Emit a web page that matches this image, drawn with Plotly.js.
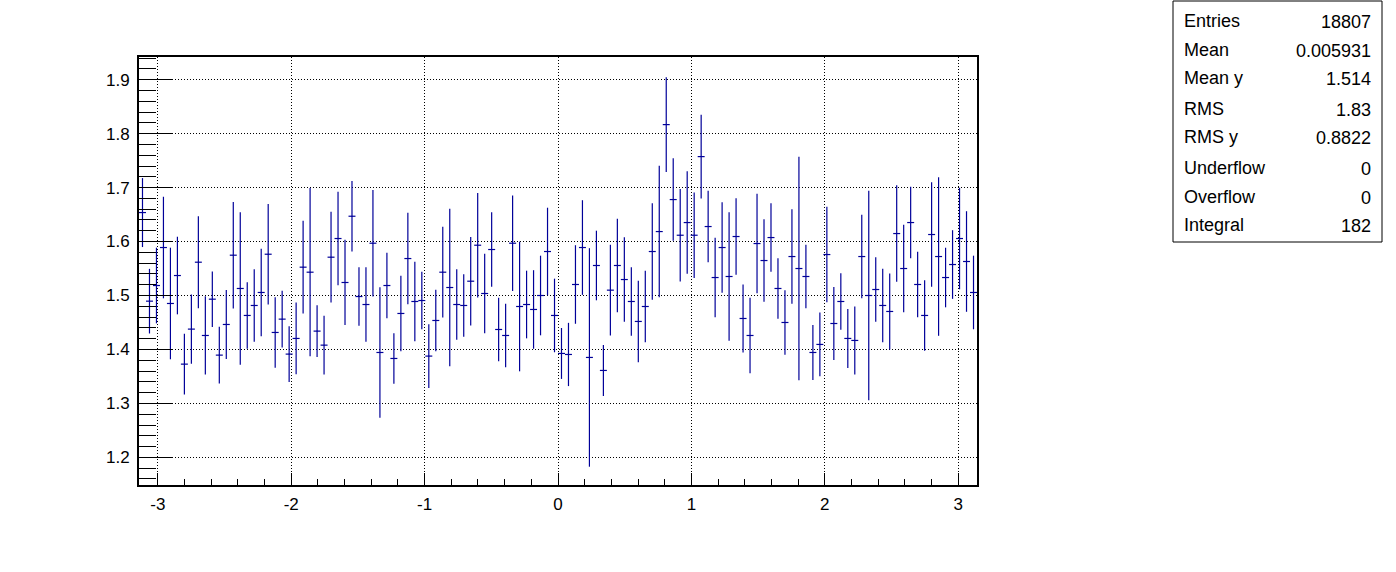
<!DOCTYPE html>
<html>
<head>
<meta charset="utf-8">
<script src="https://cdn.plot.ly/plotly-3.0.1.min.js"></script>
<style>html,body{margin:0;padding:0;background:#fff;}#chart{width:1396px;height:572px;}</style>
</head>
<body>
<div id="chart"></div>
<script>
// Profile: 120 bins over [-pi, pi]
var nBins = 120;
var xMin = -Math.PI, xMax = Math.PI;

var means = [
1.6537,1.4895,1.5185,1.5889,1.4852,1.5370,1.3728,1.4377,1.5617,1.4259,
1.4932,1.3895,1.4463,1.5747,1.5130,1.4630,1.4815,1.5056,1.5765,1.4315,
1.4562,1.3914,1.4204,1.5525,1.5432,1.4340,1.4080,1.5710,1.6056,1.5241,
1.6469,1.4981,1.4833,1.5969,1.3944,1.5185,1.3833,1.4667,1.5685,1.4889,
1.4907,1.3877,1.4537,1.5432,1.5148,1.4833,1.4815,1.5265,1.5932,1.5037,
1.5852,1.4370,1.4259,1.5969,1.4796,1.4833,1.4741,1.5000,1.5815,1.4630,
1.3926,1.3907,1.5204,1.5889,1.3852,1.5556,1.3611,1.5099,1.5556,1.5296,
1.4889,1.4519,1.4796,1.5815,1.6185,1.8167,1.6778,1.6117,1.6352,1.6117,
1.7574,1.6278,1.5333,1.5889,1.5352,1.6093,1.4574,1.4259,1.5963,1.5648,
1.6074,1.5130,1.4500,1.5722,1.5500,1.5352,1.3944,1.4093,1.5759,1.4481,
1.4889,1.4204,1.4167,1.5722,1.5000,1.5111,1.4815,1.4704,1.6148,1.5500,
1.6352,1.5204,1.4630,1.6130,1.5722,1.5333,1.5574,1.6056,1.5630,1.5056
];
var errors = [
0.0639,0.0599,0.0701,0.0941,0.1034,0.0719,0.0562,0.0642,0.0852,0.0725,
0.0515,0.0528,0.0639,0.0988,0.1414,0.0617,0.0673,0.0812,0.0932,0.0654,
0.0525,0.0515,0.0664,0.0858,0.1559,0.0478,0.0543,0.0840,0.0867,0.0790,
0.0654,0.0543,0.0691,0.0988,0.1210,0.0608,0.0469,0.0701,0.0849,0.0738,
0.0534,0.0590,0.0571,0.0840,0.1460,0.0654,0.0580,0.0821,0.0969,0.0738,
0.0691,0.0590,0.0590,0.0886,0.1201,0.0627,0.0728,0.0738,0.0812,0.0682,
0.0472,0.0586,0.0728,0.0877,0.2025,0.0645,0.0472,0.0840,0.0867,0.0784,
0.0636,0.0756,0.0664,0.0895,0.1219,0.0877,0.0765,0.0858,0.0951,0.0793,
0.0775,0.0664,0.0738,0.0840,0.1191,0.0710,0.0630,0.0701,0.0923,0.0765,
0.0636,0.0562,0.0599,0.0877,0.2071,0.0590,0.0509,0.0590,0.0886,0.0676,
0.0525,0.0546,0.0630,0.0775,0.1941,0.0599,0.0682,0.0704,0.0895,0.0812,
0.0664,0.0608,0.0654,0.0969,0.1469,0.0552,0.0636,0.0941,0.0932,0.0682
];

var xTickVals = [-3, -2, -1, 0, 1, 2, 3];
var xTickText = ["-3", "-2", "-1", "0", "1", "2", "3"];
var yTickVals = [1.2, 1.3, 1.4, 1.5, 1.6, 1.7, 1.8, 1.9];
var yTickText = ["1.2", "1.3", "1.4", "1.5", "1.6", "1.7", "1.8", "1.9"];

var statLabels = ["Entries","Mean","Mean y","RMS","RMS y","Underflow","Overflow","Integral"];
var statValues = ["18807","0.005931","1.514","1.83","0.8822","0","0","182"];

var binW = (xMax - xMin) / nBins;
var centers = [];
for (var i = 0; i < nBins; i++) centers.push(xMin + (i + 0.5) * binW);

var W = 1396, H = 572;
var L = 139, R = 977, T = 57, B = 485;
function px(xp){ return (xp - L) / (R - L); }
function py(yp){ return (B - yp) / (B - T); }

var col = '#000099';
var trace = {
  x: centers, y: means, type: 'scatter', mode: 'markers',
  marker: {size: 1, color: col},
  error_y: {type: 'data', array: errors, visible: true, color: col, thickness: 1.2, width: 0},
  error_x: {type: 'constant', value: binW / 2, visible: true, color: col, thickness: 1.2, width: 0},
  hoverinfo: 'skip', showlegend: false
};

var fnt = {family: 'Liberation Sans, Arial, Helvetica, sans-serif', size: 17, color: '#000'};

var shapes = [{
  type: 'rect', xref: 'paper', yref: 'paper',
  x0: px(1173), x1: px(1382), y0: py(242), y1: py(1),
  line: {color: '#000', width: 1}, fillcolor: '#fff'
}];
var annotations = [];
var rowY = [21, 50, 78, 109, 137, 168, 197, 225];
for (var k = 0; k < statLabels.length; k++) {
  annotations.push({xref:'paper', yref:'paper', x: px(1182), y: py(rowY[k]), xanchor:'left', yanchor:'middle',
    text: statLabels[k], showarrow:false, font:{family: fnt.family, size: 18, color:'#000'}});
  annotations.push({xref:'paper', yref:'paper', x: px(1373), y: py(rowY[k] + 1), xanchor:'right', yanchor:'middle',
    text: statValues[k], showarrow:false, font:{family: fnt.family, size: 18, color:'#000'}});
}

var layout = {
  width: W, height: H,
  margin: {l: L, r: W - R, t: T, b: H - B, pad: 0},
  paper_bgcolor: '#fff', plot_bgcolor: '#fff',
  showlegend: false,
  xaxis: {
    range: [xMin, xMax], tickmode: 'array', tickvals: xTickVals, ticktext: xTickText,
    ticks: 'inside', ticklen: 12, tickwidth: 1, tickcolor: '#000',
    showline: true, linecolor: '#000', linewidth: 2, mirror: true,
    showgrid: true, gridcolor: '#000', gridwidth: 1, griddash: '1px,2px', zeroline: false,
    tickfont: fnt, ticklabelstandoff: 3,
    minor: {dtick: 0.2, tick0: 0, ticks: 'inside', ticklen: 6, tickcolor: '#000', tickwidth: 1, showgrid: false}
  },
  yaxis: {
    range: [1.1488, 1.942], tickmode: 'array', tickvals: yTickVals, ticktext: yTickText,
    ticks: 'inside', ticklen: 33, tickwidth: 1, tickcolor: '#000',
    showline: true, linecolor: '#000', linewidth: 2, mirror: true,
    showgrid: true, gridcolor: '#000', gridwidth: 1, griddash: '1px,2px', zeroline: false,
    tickfont: fnt, ticklabelstandoff: 4,
    minor: {dtick: 0.02, tick0: 1.2, ticks: 'inside', ticklen: 17, tickcolor: '#000', tickwidth: 1, showgrid: false}
  },
  shapes: shapes,
  annotations: annotations
};

Plotly.newPlot('chart', [trace], layout, {displayModeBar: false, staticPlot: true});
</script>
</body>
</html>
